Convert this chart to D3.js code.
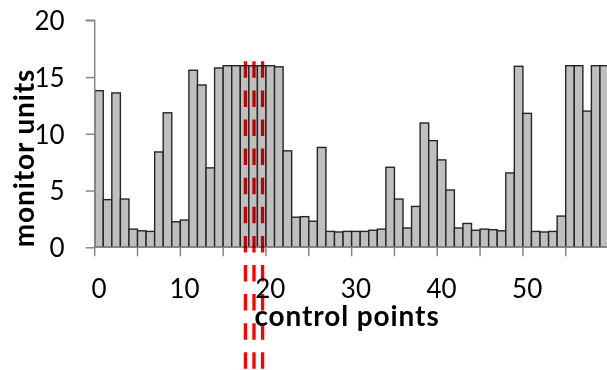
<!DOCTYPE html>
<html><head><meta charset="utf-8">
<script src="https://cdn.jsdelivr.net/npm/d3@7"></script>
<style>
body{margin:0;background:#fff;}
svg{display:block;font-family:Lato,"Open Sans",sans-serif;}
</style></head>
<body><svg id="c" width="607" height="370"></svg>
<script>
const categories = d3.range(0, 60);
const values = [13.8,4.2,13.6,4.25,1.6,1.45,1.4,8.4,11.85,2.25,
  2.4,15.6,14.3,7.0,15.8,16,16,16,16,16,
  16,15.9,8.5,2.65,2.7,2.3,8.8,1.4,1.35,1.4,
  1.4,1.4,1.5,1.6,7.05,4.25,1.7,3.6,10.95,9.4,
  7.7,5.05,1.7,2.1,1.5,1.6,1.55,1.45,6.55,15.95,
  11.8,1.4,1.35,1.4,2.75,16,16,12.0,16,16];
const yTicks = [0,5,10,15,20];
const xLabelCats = [0,10,20,30,40,50];
const xTickCats = [0,5,10,15,20,25,30,35,40,45,50,55];
const markers = [17.6,18.6,19.6];
const yTitle = "monitor units";
const xTitle = "control points";

const svg = d3.select("#c");
const x0 = 94.7, unit = 8.564;
const xLin = d3.scaleLinear().domain([0,60]).range([x0, x0+60*unit]);
const xb = d3.scaleBand().domain(categories).range([x0, x0+60*unit]).paddingInner(0).paddingOuter(0);
const y = d3.scaleLinear().domain([0,20]).range([247.3, 20.3]);
const axisCol = "#868686";

// bars
svg.append("g").selectAll("rect").data(values).join("rect")
  .attr("x",(d,i)=>xb(categories[i]))
  .attr("y",d=>y(d))
  .attr("width",xb.bandwidth())
  .attr("height",d=>y(0)-y(d))
  .attr("fill","#bfbfbf")
  .attr("stroke","#262626")
  .attr("stroke-width",1.4);

// y axis
const ya = svg.append("g").attr("transform",`translate(${x0},0)`)
  .call(d3.axisLeft(y).tickValues(yTicks).tickSize(9).tickPadding(21).tickFormat(d3.format("d")));
ya.select(".domain").attr("stroke",axisCol).attr("stroke-width",1.5).attr("d",`M-9,${y(20)}H0V${y(0)}`);
ya.selectAll(".tick line").attr("stroke",axisCol).attr("stroke-width",1.5);
ya.selectAll(".tick text").attr("font-size",26).attr("font-family","Lato").attr("fill","#000").attr("dy","0.36em");

// x axis line and ticks
const xa = svg.append("g").attr("transform",`translate(0,${y(0)})`);
xa.append("line").attr("x1",x0).attr("x2",607).attr("y1",0).attr("y2",0).attr("stroke",axisCol).attr("stroke-width",1.5);
xa.selectAll("line.t").data(xTickCats).join("line").attr("class","t")
  .attr("x1",d=>xb(d)).attr("x2",d=>xb(d)).attr("y1",0).attr("y2",9)
  .attr("stroke",axisCol).attr("stroke-width",1.5);
xa.selectAll("text").data(xLabelCats).join("text")
  .attr("x",d=>xb(d)+xb.bandwidth()/2).attr("y",50.5)
  .attr("text-anchor","middle").attr("font-size",26).attr("fill","#000").text(d=>d);

// titles
svg.append("text").attr("x",347).attr("y",326).attr("text-anchor","middle")
  .attr("font-size",28).attr("font-weight","bold").attr("letter-spacing",0.9).text(xTitle);
svg.append("text").attr("transform","translate(34,158) rotate(-90)").attr("text-anchor","middle")
  .attr("font-size",28).attr("font-weight","bold").attr("letter-spacing",0.9).text(yTitle);

// red dashed markers
svg.append("g").selectAll("line").data(markers).join("line")
  .attr("x1",d=>xLin(d)).attr("x2",d=>xLin(d)).attr("y1",61.3).attr("y2",370)
  .attr("stroke","#ff0000").attr("stroke-width",3.3).attr("stroke-dasharray","16.5,12.6")
  .style("mix-blend-mode","multiply");
</script></body></html>
